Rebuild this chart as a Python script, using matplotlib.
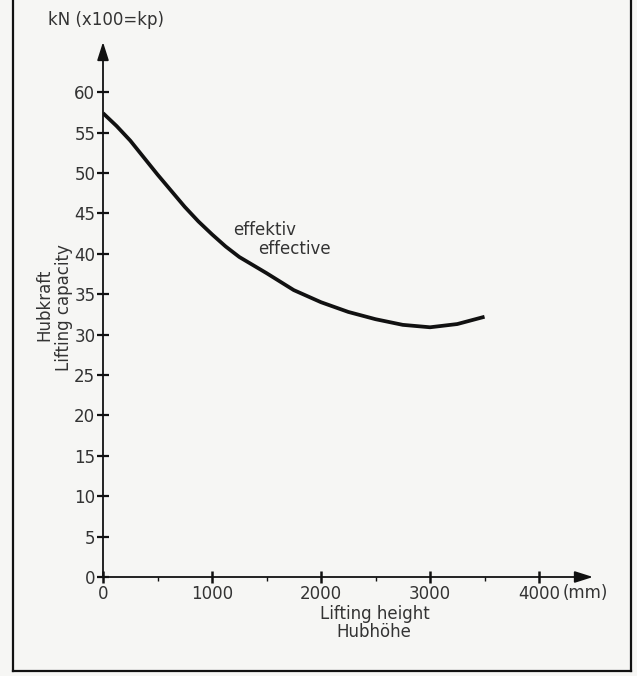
import matplotlib
matplotlib.use("Agg")
import matplotlib.pyplot as plt
from matplotlib.lines import Line2D

# ---- data ----
lifting_height_mm = [0, 125, 250, 375, 500, 625, 750, 875, 1000, 1125, 1250,
                     1500, 1750, 2000, 2250, 2500, 2750, 3000, 3250, 3500]
capacity_kN = [57.4, 55.8, 54.0, 51.9, 49.8, 47.8, 45.8, 44.0, 42.4, 40.9,
               39.6, 37.6, 35.5, 34.0, 32.8, 31.9, 31.2, 30.9, 31.3, 32.2]
y_ticks = [0, 5, 10, 15, 20, 25, 30, 35, 40, 45, 50, 55, 60]
x_ticks = [0, 1000, 2000, 3000, 4000]
x_minor = [500, 1500, 2500, 3500]
x_tick_labels = ["0", "1000", "2000", "3000", "4000"]

W, H = 637, 676
bg = "#f6f6f4"
txt = "#333333"
ink = "#111111"
plt.rcParams["font.family"] = ["DejaVu Sans"]

fig = plt.figure(figsize=(W / 100, H / 100), dpi=100, facecolor=bg)

x0, x1 = 103, 593     # pixel positions of x = 0 and x = 4495
y0, y1 = 577, 42      # pixel positions of y = 0 and y = 66.2
ax = fig.add_axes([x0 / W, 1 - y0 / H, (x1 - x0) / W, (y0 - y1) / H])
ax.set_facecolor(bg)
ax.set_xlim(0, 4495)
ax.set_ylim(0, 66.2)
for s in ax.spines.values():
    s.set_visible(False)

# axes with arrows
arrow = dict(arrowstyle="-|>,head_length=1.1,head_width=0.35",
             color=ink, lw=1.3, shrinkA=0, shrinkB=0)
ax.annotate("", xy=(4495, 0), xytext=(0, 0), arrowprops=arrow,
            annotation_clip=False)
ax.annotate("", xy=(0, 66.2), xytext=(0, 0), arrowprops=arrow,
            annotation_clip=False)

ax.plot(lifting_height_mm, capacity_kN, color=ink, lw=2.7,
        solid_capstyle="butt", solid_joinstyle="round")

ax.set_yticks(y_ticks)
ax.set_yticklabels([str(v) for v in y_ticks])
ax.set_xticks(x_ticks)
ax.set_xticklabels(x_tick_labels)
ax.set_xticks(x_minor, minor=True)
ax.tick_params(axis="y", direction="inout", length=8, width=1.6, color=ink,
               labelsize=12, labelcolor=txt, pad=1.5)
ax.tick_params(axis="x", which="major", direction="inout", length=8, width=1.8,
               color=ink, labelsize=12, labelcolor=txt, pad=1.5)
ax.tick_params(axis="x", which="minor", direction="out", length=3, width=1.0,
               color=ink)

# texts
fig.text(48 / W, 1 - 20 / H, "kN (x100=kp)", fontsize=12, color=txt,
         ha="left", va="center")
fig.text(563 / W, 1 - 593 / H, "(mm)", fontsize=12, color=txt,
         ha="left", va="center")
fig.text(44 / W, 1 - 305 / H, "Hubkraft", rotation=90, fontsize=12,
         color=txt, ha="center", va="center")
fig.text(64 / W, 1 - 308 / H, "Lifting capacity", rotation=90, fontsize=12,
         color=txt, ha="center", va="center")
fig.text(233 / W, 1 - 230 / H, "effektiv", fontsize=12, color=txt,
         ha="left", va="center")
fig.text(258 / W, 1 - 249 / H, "effective", fontsize=12, color=txt,
         ha="left", va="center")
fig.text(375 / W, 1 - 614 / H, "Lifting height", fontsize=12, color=txt,
         ha="center", va="center")
fig.text(374 / W, 1 - 632 / H, "Hubhöhe", fontsize=12, color=txt,
         ha="center", va="center")

# frame lines (left, right, bottom)
for xs, ys in [([13, 13], [0, 671]), ([631, 631], [0, 671]),
               ([13, 631], [671, 671])]:
    fig.add_artist(Line2D([x / W for x in xs], [1 - y / H for y in ys],
                          color=ink, lw=1.6, transform=fig.transFigure))

fig.savefig("out.png", dpi=100, facecolor=bg)
